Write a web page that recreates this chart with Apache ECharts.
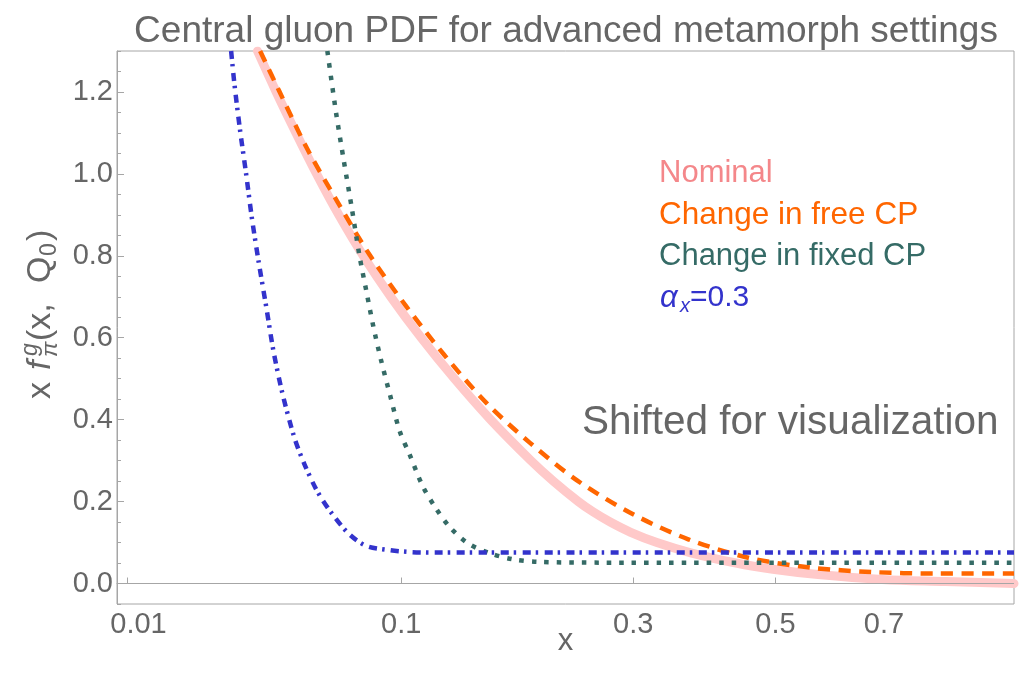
<!DOCTYPE html>
<html><head><meta charset="utf-8">
<script src="https://cdn.jsdelivr.net/npm/echarts@6/dist/echarts.min.js"></script>
<style>html,body{margin:0;padding:0;background:#fff}#c{width:1030px;height:676px}</style>
</head><body><div id="c"></div>
<script>
// x axis uses a power scale (x^0.35), as in the reference
const X_POWER = 0.35;
const X_RANGE = [0.0087, 1.0];
const Y_RANGE = [-0.05, 1.3];
const xTickValues = [0.01, 0.1, 0.3, 0.5, 0.7];
const xTickLabels = ['0.01', '0.1', '0.3', '0.5', '0.7'];
const yTickValues = [0, 0.2, 0.4, 0.6, 0.8, 1.0, 1.2];
const yTickLabels = ['0.0', '0.2', '0.4', '0.6', '0.8', '1.0', '1.2'];
const yMinorTicks = [-0.05, 0.05, 0.1, 0.15, 0.25, 0.3, 0.35, 0.45, 0.5, 0.55, 0.65, 0.7, 0.75, 0.85, 0.9, 0.95, 1.05, 1.1, 1.15, 1.25, 1.3];

const seriesNames = ['Nominal', 'Change in free CP', 'Change in fixed CP', 'αx=0.3'];

const nominalX = [0.0375, 0.0435, 0.0505, 0.0585, 0.0680, 0.0796, 0.0941, 0.1120, 0.1339, 0.1607, 0.1945, 0.2151, 0.2398, 0.2550, 0.2737, 0.2971, 0.3288, 0.3731, 0.4379, 0.4959, 0.5734, 0.6962, 0.8327, 1.0];
const nominalY = [1.30, 1.20, 1.10, 1.00, 0.90, 0.80, 0.70, 0.60, 0.50, 0.40, 0.30, 0.25, 0.20, 0.175, 0.15, 0.125, 0.10, 0.075, 0.05, 0.035, 0.022, 0.010, 0.005, 0.0];

const freeX = [0.0383, 0.0446, 0.0546, 0.0673, 0.0827, 0.1025, 0.1267, 0.1574, 0.1934, 0.2395, 0.2999, 0.3696, 0.4567, 0.5591, 0.6755, 0.810, 1.0];
const freeY = [1.30, 1.201, 1.063, 0.933, 0.803, 0.679, 0.559, 0.441, 0.344, 0.250, 0.169, 0.108, 0.063, 0.039, 0.028, 0.0244, 0.0244];

const fixedX = [0.0630, 0.0668, 0.0702, 0.0740, 0.0777, 0.0811, 0.0847, 0.0889, 0.0938, 0.0991, 0.1049, 0.1130, 0.1211, 0.1306, 0.1436, 0.1600, 0.1790, 0.2009, 0.2623, 1.0];
const fixedY = [1.30, 1.149, 1.035, 0.917, 0.801, 0.715, 0.628, 0.543, 0.458, 0.372, 0.315, 0.237, 0.185, 0.138, 0.098, 0.074, 0.059, 0.053, 0.051, 0.051];

const alphaX = [0.0300, 0.0309, 0.0324, 0.0341, 0.0358, 0.0379, 0.0402, 0.0426, 0.0457, 0.0499, 0.0537, 0.0588, 0.0652, 0.0729, 0.0811, 0.0925, 0.1049, 0.1194, 1.0];
const alphaY = [1.30, 1.218, 1.108, 1.002, 0.893, 0.783, 0.677, 0.567, 0.462, 0.356, 0.291, 0.225, 0.169, 0.120, 0.092, 0.082, 0.077, 0.0756, 0.0756];

const fwd = v => Math.pow(v, X_POWER);
const pairs = (xs, ys) => xs.map((x, i) => [fwd(x), ys[i]]);

const FONT = '"Liberation Sans", Arial, Helvetica, sans-serif';
const GRAY = '#666666';
const AXIS_GRAY = '#a6a6a6';

const chart = echarts.init(document.getElementById('c'), null, { renderer: 'canvas' });

function baseLine(name, xs, ys, color, width, type, z, smooth) {
  return {
    name, type: 'line', data: pairs(xs, ys), showSymbol: false, symbol: 'none',
    smooth: smooth, clip: true, z,
    lineStyle: { color, width, type, cap: 'butt', join: 'round' },
    animation: false
  };
}

const nominal = baseLine(seriesNames[0], nominalX, nominalY, '#ffc9c9', 9, 'solid', 2, 0.35);
nominal.lineStyle.cap = 'round';
nominal.markLine = {
  silent: true, symbol: 'none', label: { show: false }, animation: false,
  lineStyle: { color: AXIS_GRAY, type: 'solid', width: 1.2 },
  data: [{ yAxis: 0 }]
};

const option = {
  animation: false,
  backgroundColor: '#ffffff',
  grid: { left: 117, top: 51, width: 897, height: 553, show: true, borderColor: AXIS_GRAY, borderWidth: 1, containLabel: false },
  xAxis: {
    type: 'value', min: fwd(X_RANGE[0]), max: fwd(X_RANGE[1]),
    axisLine: { show: true, lineStyle: { color: AXIS_GRAY, width: 1 } },
    axisTick: { show: true, inside: true, length: 6, lineStyle: { color: AXIS_GRAY }, customValues: xTickValues.map(fwd) },
    axisLabel: {
      show: true, customValues: xTickValues.map(fwd), color: GRAY, fontSize: 29, fontFamily: FONT, margin: 6,
      rich: { first: { fontSize: 29, fontFamily: FONT, color: GRAY, padding: [0, 0, 0, 22] } },
      formatter: v => {
        let best = 0;
        xTickValues.forEach((t, i) => { if (Math.abs(fwd(t) - v) < Math.abs(fwd(xTickValues[best]) - v)) best = i; });
        return best === 0 ? '{first|' + xTickLabels[0] + '}' : xTickLabels[best];
      }
    },
    splitLine: { show: false },
    name: 'x', nameLocation: 'middle', nameGap: 22, nameMoveOverlap: false,
    nameTextStyle: { color: GRAY, fontSize: 31, fontFamily: FONT }
  },
  yAxis: [{
    type: 'value', min: Y_RANGE[0], max: Y_RANGE[1], position: 'left',
    axisLine: { show: true, lineStyle: { color: AXIS_GRAY, width: 1 } },
    axisTick: { show: true, inside: true, length: 7, lineStyle: { color: AXIS_GRAY }, customValues: yTickValues },
    axisLabel: {
      show: true, customValues: yTickValues, color: GRAY, fontSize: 29, fontFamily: FONT, margin: 4,
      formatter: v => {
        let best = 0;
        yTickValues.forEach((t, i) => { if (Math.abs(t - v) < Math.abs(yTickValues[best] - v)) best = i; });
        return yTickLabels[best];
      }
    },
    splitLine: { show: false }
  }, {
    type: 'value', min: Y_RANGE[0], max: Y_RANGE[1], position: 'left', offset: 0,
    axisLine: { show: false },
    axisTick: { show: true, inside: true, length: 4, lineStyle: { color: AXIS_GRAY }, customValues: yMinorTicks },
    axisLabel: { show: false },
    splitLine: { show: false }
  }],
  series: [
    nominal,
    baseLine(seriesNames[1], freeX, freeY, '#ff6600', 4.5, [12, 8.5], 3, 0.3),
    baseLine(seriesNames[2], fixedX, fixedY, '#356b66', 4.5, [4.5, 8], 4, 0.3),
    baseLine(seriesNames[3], alphaX, alphaY, '#3333cc', 4.5, [8, 5, 2.5, 6.5], 5, 0.3)
  ],
  graphic: [
    { type: 'text', x: 566, y: 32, style: { text: 'Central gluon PDF for advanced metamorph settings', fill: GRAY, fontSize: 37, fontFamily: FONT, align: 'center', verticalAlign: 'middle' } },
    { type: 'text', x: 582, y: 423, style: { text: 'Shifted for visualization', fill: GRAY, fontSize: 40.5, fontFamily: FONT, align: 'left', verticalAlign: 'middle' } },
    { type: 'text', x: 659, y: 173, style: { text: 'Nominal', fill: '#f4878a', fontSize: 31, fontFamily: FONT, align: 'left', verticalAlign: 'middle' } },
    { type: 'text', x: 659, y: 215, style: { text: 'Change in free CP', fill: '#ff6600', fontSize: 31.5, fontFamily: FONT, align: 'left', verticalAlign: 'middle' } },
    { type: 'text', x: 659, y: 256, style: { text: 'Change in fixed CP', fill: '#356b66', fontSize: 31, fontFamily: FONT, align: 'left', verticalAlign: 'middle' } },
    { type: 'group', x: 660, y: 298, children: [
      { type: 'text', x: 0, y: 0, style: { text: 'α', fill: '#3333cc', fontSize: 31, fontStyle: 'italic', fontFamily: FONT, align: 'left', verticalAlign: 'middle' } },
      { type: 'text', x: 20, y: 8, style: { text: 'x', fill: '#3333cc', fontSize: 20, fontStyle: 'italic', fontFamily: FONT, align: 'left', verticalAlign: 'middle' } },
      { type: 'text', x: 30, y: 0, style: { text: '=0.3', fill: '#3333cc', fontSize: 30, fontFamily: FONT, align: 'left', verticalAlign: 'middle' } }
    ] },
    { type: 'group', x: 41, y: 399, rotation: Math.PI / 2, children: [
      { type: 'text', x: 0, y: 0, style: { text: 'x', fill: GRAY, fontSize: 34, fontFamily: FONT, align: 'left', verticalAlign: 'middle' } },
      { type: 'text', x: 29, y: 0, style: { text: 'f', fill: GRAY, fontSize: 34, fontStyle: 'italic', fontFamily: FONT, align: 'left', verticalAlign: 'middle' } },
      { type: 'text', x: 43, y: -10, style: { text: 'g', fill: GRAY, fontSize: 23, fontStyle: 'italic', fontFamily: FONT, align: 'left', verticalAlign: 'middle' } },
      { type: 'text', x: 42, y: 10, style: { text: 'π', fill: GRAY, fontSize: 23, fontStyle: 'italic', fontFamily: FONT, align: 'left', verticalAlign: 'middle' } },
      { type: 'text', x: 58, y: 0, style: { text: '(x,', fill: GRAY, fontSize: 34, fontFamily: FONT, align: 'left', verticalAlign: 'middle' } },
      { type: 'text', x: 116, y: 0, style: { text: 'Q', fill: GRAY, fontSize: 34, fontFamily: FONT, align: 'left', verticalAlign: 'middle' } },
      { type: 'text', x: 143, y: 9, style: { text: '0', fill: GRAY, fontSize: 23, fontFamily: FONT, align: 'left', verticalAlign: 'middle' } },
      { type: 'text', x: 158, y: 0, style: { text: ')', fill: GRAY, fontSize: 34, fontFamily: FONT, align: 'left', verticalAlign: 'middle' } }
    ] }
  ]
};
chart.setOption(option);
</script>
</body></html>
